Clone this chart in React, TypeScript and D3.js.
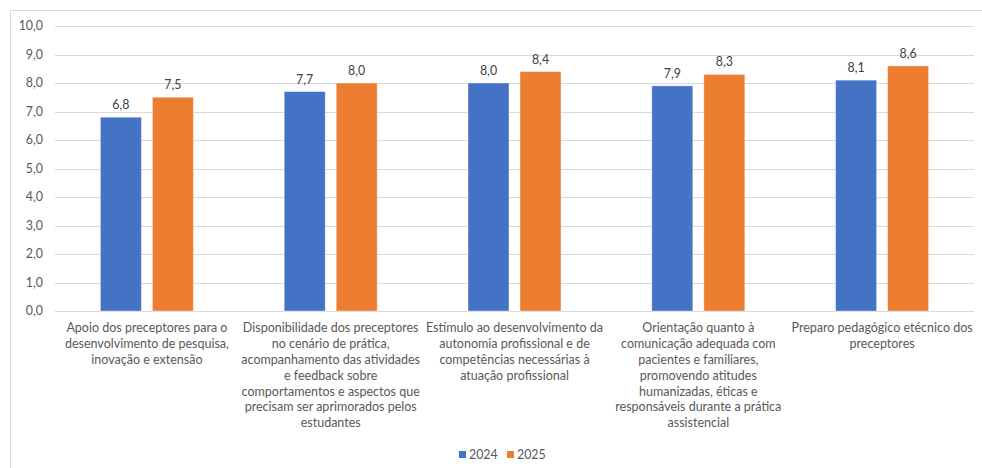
import React from "react";
import * as d3 from "d3";

const categories: string[][] = [
  ["Apoio dos preceptores para o", "desenvolvimento de pesquisa,", "inovação e extensão"],
  ["Disponibilidade dos preceptores", "no cenário de prática,", "acompanhamento das atividades", "e feedback sobre", "comportamentos e aspectos que", "precisam ser aprimorados pelos", "estudantes"],
  ["Estímulo ao desenvolvimento da", "autonomia profissional e de", "competências necessárias à", "atuação profissional"],
  ["Orientação quanto à", "comunicação adequada com", "pacientes e familiares,", "promovendo atitudes", "humanizadas, éticas e", "responsáveis durante a prática", "assistencial"],
  ["Preparo pedagógico etécnico dos", "preceptores"],
];
const seriesNames = ["2024", "2025"];
const values2024 = [6.8, 7.7, 8.0, 7.9, 8.1];
const values2025 = [7.5, 8.0, 8.4, 8.3, 8.6];
const yTicks = [0, 1, 2, 3, 4, 5, 6, 7, 8, 9, 10];
const colors = ["#4472C4", "#ED7D31"];

const W = 982;
const H = 468;
const FONT = "Lato, Carlito, 'Liberation Sans', sans-serif";

export default function App() {
  const left = 55, right = 974, top = 26, bottom = 311;
  const idx = categories.map((_, i) => String(i));
  const x0 = d3.scaleBand<string>().domain(idx).range([left, right]).padding(0);
  const x1 = d3.scaleBand<string>().domain(seriesNames).range([-46.5, 46.5]).paddingInner(11 / 52).paddingOuter(0);
  const y = d3.scaleLinear().domain([0, 10]).range([bottom, top]);
  const fmt = (v: number) => v.toFixed(1).replace(".", ",");
  const seriesValues = [values2024, values2025];

  return (
    <svg width={W} height={H} style={{ position: "absolute", left: 0, top: 0, background: "#fff" }} fontFamily={FONT}>
      <rect x={10.5} y={10.5} width={980} height={470} fill="#fff" stroke="#d9d9d9" />
      {yTicks.map((t) => (
        <g key={t}>
          <line x1={left} x2={right} y1={Math.round(y(t)) + 0.5} y2={Math.round(y(t)) + 0.5} stroke="#d9d9d9" strokeWidth={1} />
          <text x={43} y={y(t)} dy="0.35em" textAnchor="end" fontSize={12.4} fill="#595959">{fmt(t)}</text>
        </g>
      ))}
      {idx.map((c, i) => (
        <g key={c} transform={`translate(${x0(c)! + x0.bandwidth() / 2},0)`}>
          {seriesNames.map((s, j) => {
            const v = seriesValues[j][i];
            const bx = x1(s)!;
            return (
              <g key={s}>
                <rect x={bx} y={y(v)} width={x1.bandwidth()} height={y(0) - y(v)} fill={colors[j]} stroke="#fff" strokeOpacity={0.4} strokeWidth={1} />
                <text x={bx + x1.bandwidth() / 2} y={y(v) - 8} textAnchor="middle" fontSize={12.4} fill="#404040">{fmt(v)}</text>
              </g>
            );
          })}
          <text y={328} textAnchor="middle" fontSize={12.5} fill="#595959">
            {categories[i].map((line, k) => (
              <tspan key={k} x={0} y={328 + k * 15.8} dy="0.35em">{line}</tspan>
            ))}
          </text>
        </g>
      ))}
      <g transform="translate(0,455)">
        {seriesNames.map((s, j) => {
          const lx = j === 0 ? 459 : 507;
          return (
            <g key={s}>
              <rect x={lx} y={-4} width={7} height={7} fill={colors[j]} />
              <text x={lx + 10} y={0} dy="0.35em" fontSize={12.4} fill="#595959">{s}</text>
            </g>
          );
        })}
      </g>
    </svg>
  );
}
